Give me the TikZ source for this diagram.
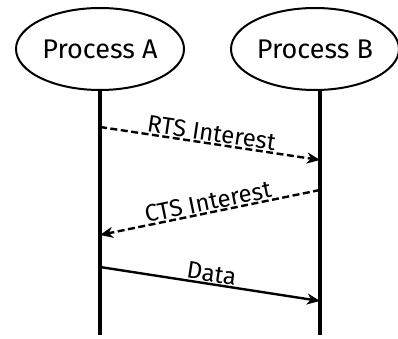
\documentclass[tikz,border=0pt]{standalone}
\usepackage{fontspec}
\setmainfont{Fira Sans}
\usetikzlibrary{arrows.meta,shapes.geometric}
\begin{document}
\begin{tikzpicture}[x=1pt,y=-1pt,
  proc/.style={draw,ellipse,line width=2pt,minimum width=168pt,minimum height=82pt,inner sep=0pt,font=\fontsize{27}{32}\selectfont},
  life/.style={line width=4pt},
  msg/.style={line width=2.4pt,-{Stealth[length=13pt,width=11pt,inset=4pt]}},
  dashmsg/.style={msg,dash pattern=on 7pt off 3.5pt},
  lbl/.style={font=\fontsize{24}{28}\selectfont,sloped,above,inner sep=1pt}]
\useasboundingbox (0,0) rectangle (398,339);
\node[proc] (A) at (100,49) {Process A};
\node[proc] (B) at (315,49) {Process B};
\coordinate (Aend) at (100,335);
\coordinate (Bend) at (320,335);
\coordinate (Atop) at (100,90);
\coordinate (Btop) at (320,90);
\draw[life] (Atop) -- (Aend);
\draw[life] (Btop) -- (Bend);
\coordinate (a1) at (100,127);
\coordinate (b1) at (320,160);
\coordinate (b2) at (320,190);
\coordinate (a2) at (100,235);
\coordinate (a3) at (100,267);
\coordinate (b3) at (320,301);
\draw[dashmsg] (a1) -- node[lbl] {RTS Interest} (b1);
\draw[dashmsg] (b2) -- node[lbl] {CTS Interest} (a2);
\draw[msg] (a3) -- node[lbl] {Data} (b3);
\end{tikzpicture}
\end{document}
